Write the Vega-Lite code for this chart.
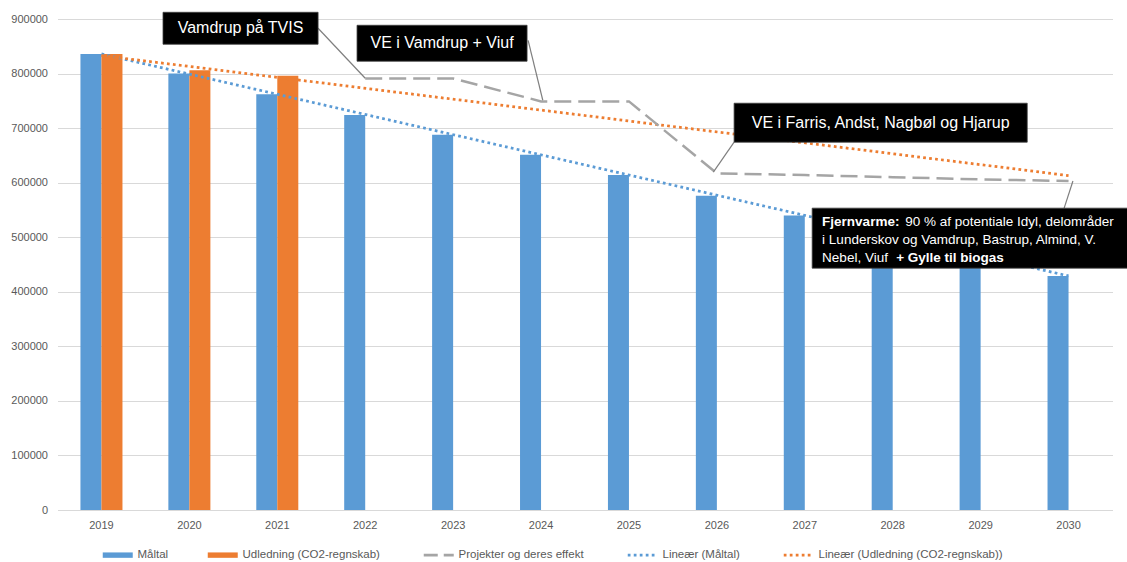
{
  "$schema": "https://vega.github.io/schema/vega-lite/v6.json",
  "width": 1055,
  "height": 491,
  "autosize": {"type": "none"},
  "padding": {"left": 57.5, "top": 19, "right": 14.5, "bottom": 52},
  "background": "white",
  "config": {
    "view": {"stroke": null},
    "font": "Liberation Sans",
    "axis": {"labelFont": "Liberation Sans", "labelFontSize": 11, "labelColor": "#595959", "ticks": false, "title": null},
    "legend": {"labelFont": "Liberation Sans"}
  },
  "datasets": {
    "bars": [
      {"year": "2019", "series": "Måltal", "value": 836000},
      {"year": "2019", "series": "Udledning (CO2-regnskab)", "value": 836000},
      {"year": "2020", "series": "Måltal", "value": 800000},
      {"year": "2020", "series": "Udledning (CO2-regnskab)", "value": 806000},
      {"year": "2021", "series": "Måltal", "value": 762000},
      {"year": "2021", "series": "Udledning (CO2-regnskab)", "value": 796000},
      {"year": "2022", "series": "Måltal", "value": 724000},
      {"year": "2023", "series": "Måltal", "value": 688000},
      {"year": "2024", "series": "Måltal", "value": 651000},
      {"year": "2025", "series": "Måltal", "value": 614000},
      {"year": "2026", "series": "Måltal", "value": 576000},
      {"year": "2027", "series": "Måltal", "value": 540000},
      {"year": "2028", "series": "Måltal", "value": 503000},
      {"year": "2029", "series": "Måltal", "value": 466000},
      {"year": "2030", "series": "Måltal", "value": 429000}
    ],
    "projects": [
      {"yr": 2022, "series": "Projekter og deres effekt", "value": 791000},
      {"yr": 2023, "series": "Projekter og deres effekt", "value": 791000},
      {"yr": 2024, "series": "Projekter og deres effekt", "value": 749000},
      {"yr": 2025, "series": "Projekter og deres effekt", "value": 749000},
      {"yr": 2026, "series": "Projekter og deres effekt", "value": 617000},
      {"yr": 2027, "series": "Projekter og deres effekt", "value": 614000},
      {"yr": 2028, "series": "Projekter og deres effekt", "value": 610000},
      {"yr": 2029, "series": "Projekter og deres effekt", "value": 606000},
      {"yr": 2030, "series": "Projekter og deres effekt", "value": 603000}
    ],
    "trends": [
      {"yr": 2019, "series": "Lineær (Måltal)", "value": 836000},
      {"yr": 2030, "series": "Lineær (Måltal)", "value": 429000},
      {"yr": 2019, "series": "Lineær (Udledning (CO2-regnskab))", "value": 833000},
      {"yr": 2030, "series": "Lineær (Udledning (CO2-regnskab))", "value": 613000}
    ],
    "boxes": [
      {"x1": 2019.70, "x2": 2021.464, "v1": 853700, "v2": 912300},
      {"x1": 2021.907, "x2": 2023.841, "v1": 822600, "v2": 888500},
      {"x1": 2026.196, "x2": 2029.53, "v1": 674200, "v2": 745600},
      {"x1": 2027.084, "x2": 2030.9, "v1": 443300, "v2": 553300}
    ],
    "leaders": [
      {"x1": 2021.464, "v1": 883000, "x2": 2022.0, "v2": 791400},
      {"x1": 2023.853, "v1": 861000, "x2": 2024.02, "v2": 751100},
      {"x1": 2026.196, "v1": 674200, "x2": 2025.96, "v2": 619200},
      {"x1": 2029.95, "v1": 553300, "x2": 2030.05, "v2": 603000}
    ],
    "callouts": [
      {"label": "Vamdrup på TVIS", "yr": 2020.582, "value": 883000},
      {"label": "VE i Vamdrup + Viuf", "yr": 2022.874, "value": 855550},
      {"label": "VE i Farris, Andst, Nagbøl og Hjarup", "yr": 2027.863, "value": 709900}
    ],
    "fjernRegular": [
      {"label": "90 % af potentiale Idyl, delområder", "yr": 2028.142, "value": 527600},
      {"label": "i Lunderskov og Vamdrup, Bastrup, Almind, V.", "yr": 2027.197, "value": 494600},
      {"label": "Nebel, Viuf", "yr": 2027.197, "value": 461700}
    ],
    "fjernBold": [
      {"label": "Fjernvarme:", "yr": 2027.197, "value": 527600},
      {"label": "+ Gylle til biogas", "yr": 2028.039, "value": 461700}
    ]
  },
  "layer": [
    {
      "data": {"name": "bars"},
      "mark": {"type": "bar"},
      "encoding": {
        "x": {
          "field": "year", "type": "ordinal",
          "scale": {"paddingInner": 0.522, "paddingOuter": 0.261},
          "axis": {"labelAngle": 0, "labelPadding": 9, "domain": true, "domainColor": "#D9D9D9", "grid": false, "title": null}
        },
        "xOffset": {"field": "series", "scale": {"domain": ["Måltal", "Udledning (CO2-regnskab)"], "paddingInner": 0, "paddingOuter": 0}},
        "y": {
          "field": "value", "type": "quantitative", "title": null,
          "scale": {"domain": [0, 900000], "nice": false},
          "axis": {"values": [0, 100000, 200000, 300000, 400000, 500000, 600000, 700000, 800000, 900000], "format": "d", "domain": false, "grid": true, "gridColor": "#D9D9D9", "labelPadding": 10}
        },
        "color": {
          "field": "series", "type": "nominal",
          "scale": {
            "domain": ["Måltal", "Udledning (CO2-regnskab)", "Projekter og deres effekt", "Lineær (Måltal)", "Lineær (Udledning (CO2-regnskab))"],
            "range": ["#5B9BD5", "#ED7D31", "#A5A5A5", "#5B9BD5", "#ED7D31"]
          },
          "legend": {
            "orient": "none", "legendX": 54.5, "legendY": 530, "direction": "horizontal", "columns": 5,
            "title": null, "symbolSize": 900, "labelFontSize": 11.5, "labelColor": "#595959",
            "labelOffset": 14, "columnPadding": 38, "labelLimit": 400, "padding": 0,
            "encode": {
              "symbols": {
                "update": {
                  "shape": {"signal": "indexof(['Måltal','Udledning (CO2-regnskab)'], datum.value) >= 0 ? 'M-1,-0.18H1V0.18H-1Z' : 'M-1,0H1'"},
                  "fill": {"signal": "indexof(['Måltal','Udledning (CO2-regnskab)'], datum.value) >= 0 ? scale('color', datum.value) : 'transparent'"},
                  "stroke": {"signal": "indexof(['Måltal','Udledning (CO2-regnskab)'], datum.value) >= 0 ? 'transparent' : scale('color', datum.value)"},
                  "strokeWidth": {"signal": "indexof(['Måltal','Udledning (CO2-regnskab)'], datum.value) >= 0 ? 0 : 2.75"},
                  "strokeDash": {"signal": "datum.value == 'Projekter og deres effekt' ? [14, 6] : (indexof(['Måltal','Udledning (CO2-regnskab)'], datum.value) >= 0 ? [] : [2.75, 3.25])"},
                  "opacity": {"value": 1}
                }
              }
            }
          }
        }
      }
    },
    {
      "layer": [
        {
          "data": {"name": "trends"},
          "mark": {"type": "line", "strokeWidth": 2.75, "strokeDash": [2.75, 3.25]},
          "encoding": {
            "x": {"field": "yr", "type": "quantitative", "scale": {"domain": [2018.5, 2030.5], "nice": false, "zero": false}, "axis": null},
            "y": {"field": "value", "type": "quantitative", "title": null, "scale": {"domain": [0, 900000], "nice": false}},
            "color": {"field": "series", "type": "nominal"}
          }
        },
        {
          "data": {"name": "projects"},
          "mark": {"type": "line", "strokeWidth": 2.5, "strokeDash": [17, 7]},
          "encoding": {
            "x": {"field": "yr", "type": "quantitative", "scale": {"domain": [2018.5, 2030.5], "nice": false, "zero": false}, "axis": null},
            "y": {"field": "value", "type": "quantitative", "title": null, "scale": {"domain": [0, 900000], "nice": false}},
            "color": {"field": "series", "type": "nominal"}
          }
        },
        {
          "data": {"name": "leaders"},
          "mark": {"type": "rule", "color": "#7F7F7F", "strokeWidth": 1.2},
          "encoding": {
            "x": {"field": "x1", "type": "quantitative", "scale": {"domain": [2018.5, 2030.5], "nice": false, "zero": false}, "axis": null},
            "x2": {"field": "x2"},
            "y": {"field": "v1", "type": "quantitative", "title": null, "scale": {"domain": [0, 900000], "nice": false}},
            "y2": {"field": "v2"}
          }
        },
        {
          "data": {"name": "boxes"},
          "mark": {"type": "rect", "color": "#000000", "stroke": "#404040", "strokeWidth": 0.8},
          "encoding": {
            "x": {"field": "x1", "type": "quantitative", "scale": {"domain": [2018.5, 2030.5], "nice": false, "zero": false}, "axis": null},
            "x2": {"field": "x2"},
            "y": {"field": "v1", "type": "quantitative", "title": null, "scale": {"domain": [0, 900000], "nice": false}},
            "y2": {"field": "v2"}
          }
        },
        {
          "data": {"name": "callouts"},
          "mark": {"type": "text", "color": "white", "fontSize": 16, "align": "center", "baseline": "middle", "font": "Liberation Sans"},
          "encoding": {
            "x": {"field": "yr", "type": "quantitative", "scale": {"domain": [2018.5, 2030.5], "nice": false, "zero": false}, "axis": null},
            "y": {"field": "value", "type": "quantitative", "title": null, "scale": {"domain": [0, 900000], "nice": false}},
            "text": {"field": "label"}
          }
        },
        {
          "data": {"name": "fjernRegular"},
          "mark": {"type": "text", "color": "white", "fontSize": 13.5, "align": "left", "baseline": "middle", "font": "Liberation Sans"},
          "encoding": {
            "x": {"field": "yr", "type": "quantitative", "scale": {"domain": [2018.5, 2030.5], "nice": false, "zero": false}, "axis": null},
            "y": {"field": "value", "type": "quantitative", "title": null, "scale": {"domain": [0, 900000], "nice": false}},
            "text": {"field": "label"}
          }
        },
        {
          "data": {"name": "fjernBold"},
          "mark": {"type": "text", "color": "white", "fontSize": 13.5, "fontWeight": "bold", "align": "left", "baseline": "middle", "font": "Liberation Sans"},
          "encoding": {
            "x": {"field": "yr", "type": "quantitative", "scale": {"domain": [2018.5, 2030.5], "nice": false, "zero": false}, "axis": null},
            "y": {"field": "value", "type": "quantitative", "title": null, "scale": {"domain": [0, 900000], "nice": false}},
            "text": {"field": "label"}
          }
        }
      ]
    }
  ],
  "resolve": {"scale": {"x": "independent"}}
}
